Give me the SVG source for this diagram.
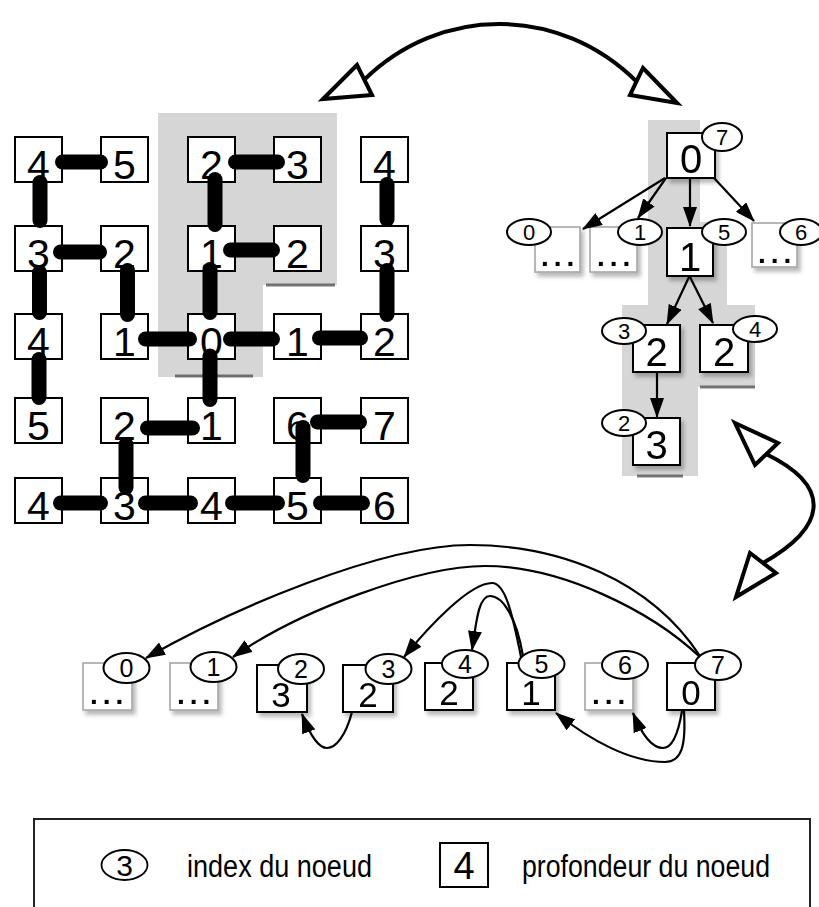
<svg xmlns="http://www.w3.org/2000/svg" width="819" height="907" viewBox="0 0 819 907">
  <defs>
    <style>
      .box { fill: #fff; stroke: #000; stroke-width: 2; }
      .faint { fill: #fff; stroke: #a6a6a6; stroke-width: 1.6; }
      .num { font-family: "Liberation Sans", Arial, sans-serif; text-anchor: middle; fill: #000; }
      .g40 { font-size: 41px; }
      .t40 { font-size: 40px; }
      .l35 { font-size: 35px; }
      .dots { font-family: "Liberation Sans", Arial, sans-serif; font-weight: bold; font-size: 28px; letter-spacing: 5px; fill: #000; }
      .oval { fill: #fff; stroke: #000; stroke-width: 2; }
      .ti { font-size: 22px; }
      .li { font-size: 25px; }
      .bar { stroke: #000; stroke-width: 15; stroke-linecap: round; fill: none; }
      .edge { fill: none; stroke: #000; stroke-width: 2.2; marker-end: url(#ah); }
      .big { fill: none; stroke: #000; stroke-width: 4; }
      .hollow { fill: #fff; stroke: #000; stroke-width: 4; stroke-linejoin: miter; }
      .zone { fill: #d6d6d6; }
      .rim { stroke: #555; stroke-width: 3; opacity: 0.8; }
      .leg { font-family: "Liberation Sans", Arial, sans-serif; font-size: 31px; fill: #000; }
    </style>
    <marker id="ah" viewBox="0 0 20 14" refX="19" refY="7" markerWidth="20" markerHeight="14" markerUnits="userSpaceOnUse" orient="auto">
      <path d="M0,0 L20,7 L0,14 z" fill="#000"/>
    </marker>
    <filter id="sh" x="-20%" y="-20%" width="150%" height="150%">
      <feGaussianBlur in="SourceAlpha" stdDeviation="2"/>
      <feOffset dx="3" dy="4"/>
      <feComponentTransfer><feFuncA type="linear" slope="0.28"/></feComponentTransfer>
      <feMerge><feMergeNode/><feMergeNode in="SourceGraphic"/></feMerge>
    </filter>
  </defs>

  <rect width="819" height="907" fill="#fff"/>

  <!-- shaded regions -->
  <g id="shading">
    <path class="zone" d="M158,113 H337 V285 H263 V377 H158 Z"/>
    <line class="rim" x1="266" y1="285" x2="335" y2="285"/>
    <line class="rim" x1="175" y1="376" x2="253" y2="376"/>
    <path class="zone" d="M648,120 H700 V222 H727 V305 H755 V387 H698 V476 H622 V305 H648 Z"/>
    <line class="rim" x1="700" y1="387" x2="755" y2="387"/>
    <line class="rim" x1="637" y1="476" x2="683" y2="476"/>
  </g>

  <!-- grid of depths -->
  <g id="grid">
    <g id="g-1-1"><rect class="box" x="15" y="137" width="47" height="45"/><text class="num g40" x="38.5" y="179">4</text></g>
    <g id="g-1-2"><rect class="box" x="101" y="137" width="47" height="45"/><text class="num g40" x="124.5" y="179">5</text></g>
    <g id="g-1-3"><rect class="box" x="188" y="137" width="47" height="45"/><text class="num g40" x="211.5" y="179">2</text></g>
    <g id="g-1-4"><rect class="box" x="274" y="137" width="47" height="45"/><text class="num g40" x="297.5" y="179">3</text></g>
    <g id="g-1-5"><rect class="box" x="361" y="137" width="47" height="45"/><text class="num g40" x="384.5" y="179">4</text></g>

    <g id="g-2-1"><rect class="box" x="15" y="226" width="47" height="45"/><text class="num g40" x="38.5" y="268">3</text></g>
    <g id="g-2-2"><rect class="box" x="101" y="226" width="47" height="45"/><text class="num g40" x="124.5" y="268">2</text></g>
    <g id="g-2-3"><rect class="box" x="188" y="226" width="47" height="45"/><text class="num g40" x="211.5" y="268">1</text></g>
    <g id="g-2-4"><rect class="box" x="274" y="226" width="47" height="45"/><text class="num g40" x="297.5" y="268">2</text></g>
    <g id="g-2-5"><rect class="box" x="361" y="226" width="47" height="45"/><text class="num g40" x="384.5" y="268">3</text></g>

    <g id="g-3-1"><rect class="box" x="15" y="314" width="47" height="45"/><text class="num g40" x="38.5" y="356">4</text></g>
    <g id="g-3-2"><rect class="box" x="101" y="314" width="47" height="45"/><text class="num g40" x="124.5" y="356">1</text></g>
    <g id="g-3-3"><rect class="box" x="188" y="314" width="47" height="45"/><text class="num g40" x="211.5" y="356">0</text></g>
    <g id="g-3-4"><rect class="box" x="274" y="314" width="47" height="45"/><text class="num g40" x="297.5" y="356">1</text></g>
    <g id="g-3-5"><rect class="box" x="361" y="314" width="47" height="45"/><text class="num g40" x="384.5" y="356">2</text></g>

    <g id="g-4-1"><rect class="box" x="15" y="398" width="47" height="45"/><text class="num g40" x="38.5" y="440">5</text></g>
    <g id="g-4-2"><rect class="box" x="101" y="398" width="47" height="45"/><text class="num g40" x="124.5" y="440">2</text></g>
    <g id="g-4-3"><rect class="box" x="188" y="398" width="47" height="45"/><text class="num g40" x="211.5" y="440">1</text></g>
    <g id="g-4-4"><rect class="box" x="274" y="398" width="47" height="45"/><text class="num g40" x="297.5" y="440">6</text></g>
    <g id="g-4-5"><rect class="box" x="361" y="398" width="47" height="45"/><text class="num g40" x="384.5" y="440">7</text></g>

    <g id="g-5-1"><rect class="box" x="15" y="478" width="47" height="45"/><text class="num g40" x="38.5" y="520">4</text></g>
    <g id="g-5-2"><rect class="box" x="101" y="478" width="47" height="45"/><text class="num g40" x="124.5" y="520">3</text></g>
    <g id="g-5-3"><rect class="box" x="188" y="478" width="47" height="45"/><text class="num g40" x="211.5" y="520">4</text></g>
    <g id="g-5-4"><rect class="box" x="274" y="478" width="47" height="45"/><text class="num g40" x="297.5" y="520">5</text></g>
    <g id="g-5-5"><rect class="box" x="361" y="478" width="47" height="45"/><text class="num g40" x="384.5" y="520">6</text></g>
  </g>

  <!-- tree of the traversal -->
  <g id="tree" filter="url(#sh)">
    <g id="t-root"><rect class="box" x="667" y="133" width="48" height="45"/><text class="num t40" x="691" y="173">0</text></g>
    <g id="t-idx0"><rect class="faint" x="535" y="227" width="45" height="45"/><text class="dots" x="541" y="266">...</text></g>
    <g id="t-idx1"><rect class="faint" x="590" y="227" width="47" height="45"/><text class="dots" x="597" y="266">...</text></g>
    <g id="t-idx5"><rect class="box" x="667" y="228" width="46" height="48"/><text class="num t40" x="690" y="271">1</text></g>
    <g id="t-idx6"><rect class="faint" x="752" y="223" width="45" height="44"/><text class="dots" x="758" y="263">...</text></g>
    <g id="t-idx3"><rect class="box" x="633" y="325" width="47" height="47"/><text class="num t40" x="656.5" y="366">2</text></g>
    <g id="t-idx4"><rect class="box" x="700" y="325" width="48" height="47"/><text class="num t40" x="724" y="366">2</text></g>
    <g id="t-idx2"><rect class="box" x="633" y="418" width="47" height="47"/><text class="num t40" x="656.5" y="459">3</text></g>
  </g>
  <g id="tree-index">
    <g id="ti-7"><ellipse class="oval" cx="722" cy="137" rx="20" ry="14"/><text class="num ti" x="722" y="145">7</text></g>
    <g id="ti-0"><ellipse class="oval" cx="529" cy="232" rx="22" ry="13"/><text class="num ti" x="529" y="240">0</text></g>
    <g id="ti-1"><ellipse class="oval" cx="640" cy="232" rx="22" ry="13"/><text class="num ti" x="640" y="240">1</text></g>
    <g id="ti-5"><ellipse class="oval" cx="724" cy="232" rx="22" ry="13"/><text class="num ti" x="724" y="240">5</text></g>
    <g id="ti-6"><ellipse class="oval" cx="801" cy="232" rx="21" ry="13"/><text class="num ti" x="801" y="240">6</text></g>
    <g id="ti-3"><ellipse class="oval" cx="624" cy="331" rx="22" ry="13"/><text class="num ti" x="624" y="339">3</text></g>
    <g id="ti-4"><ellipse class="oval" cx="755" cy="329" rx="22" ry="13"/><text class="num ti" x="755" y="337">4</text></g>
    <g id="ti-2"><ellipse class="oval" cx="624" cy="423" rx="22" ry="13"/><text class="num ti" x="624" y="431">2</text></g>
  </g>

  <!-- ordered list of nodes -->
  <g id="list" filter="url(#sh)">
    <g id="l-0"><rect class="faint" x="83" y="663" width="49" height="47"/><text class="dots" x="90" y="704">...</text></g>
    <g id="l-1"><rect class="faint" x="170" y="663" width="48" height="47"/><text class="dots" x="177" y="704">...</text></g>
    <g id="l-2"><rect class="box" x="257" y="665" width="50" height="47"/><text class="num l35" x="281" y="707">3</text></g>
    <g id="l-3"><rect class="box" x="343" y="665" width="50" height="47"/><text class="num l35" x="368" y="707">2</text></g>
    <g id="l-4"><rect class="box" x="425" y="663" width="48" height="47"/><text class="num l35" x="449" y="705">2</text></g>
    <g id="l-5"><rect class="box" x="507" y="663" width="48" height="47"/><text class="num l35" x="531" y="705">1</text></g>
    <g id="l-6"><rect class="faint" x="585" y="663" width="48" height="47"/><text class="dots" x="592" y="704">...</text></g>
    <g id="l-7"><rect class="box" x="667" y="663" width="48" height="47"/><text class="num l35" x="691" y="705">0</text></g>
  </g>
  <g id="list-index">
    <g id="li-0"><ellipse class="oval" cx="126.5" cy="668" rx="23" ry="15"/><text class="num li" x="126.5" y="677">0</text></g>
    <g id="li-1"><ellipse class="oval" cx="213.5" cy="667" rx="23" ry="15"/><text class="num li" x="213.5" y="676">1</text></g>
    <g id="li-2"><ellipse class="oval" cx="301" cy="669" rx="23" ry="15"/><text class="num li" x="301" y="678">2</text></g>
    <g id="li-3"><ellipse class="oval" cx="388.5" cy="669" rx="23" ry="15"/><text class="num li" x="388.5" y="678">3</text></g>
    <g id="li-4"><ellipse class="oval" cx="465" cy="664" rx="23" ry="14"/><text class="num li" x="465" y="673">4</text></g>
    <g id="li-5"><ellipse class="oval" cx="541.5" cy="664" rx="23" ry="14"/><text class="num li" x="541.5" y="673">5</text></g>
    <g id="li-6"><ellipse class="oval" cx="625" cy="665" rx="23" ry="14"/><text class="num li" x="625" y="674">6</text></g>
    <g id="li-7"><ellipse class="oval" cx="718" cy="665" rx="23" ry="15"/><text class="num li" x="718" y="674">7</text></g>
  </g>

  <g id="connectors">
    <!-- grid links -->
    <g id="grid-links">
      <line class="bar" x1="62.5" y1="162" x2="100.5" y2="162"/>
      <line class="bar" x1="235.5" y1="162" x2="277.5" y2="162"/>
      <line class="bar" x1="60.5" y1="252" x2="99.5" y2="252"/>
      <line class="bar" x1="230.5" y1="250" x2="272.5" y2="250"/>
      <line class="bar" x1="145.5" y1="339" x2="189.5" y2="339"/>
      <line class="bar" x1="230.5" y1="339" x2="272.5" y2="339"/>
      <line class="bar" x1="319.5" y1="338" x2="360.5" y2="338"/>
      <line class="bar" x1="147.5" y1="428" x2="192.5" y2="428"/>
      <line class="bar" x1="317.5" y1="422" x2="359.5" y2="422"/>
      <line class="bar" x1="60.5" y1="503" x2="100.5" y2="503"/>
      <line class="bar" x1="145.5" y1="503" x2="190.5" y2="503"/>
      <line class="bar" x1="232.5" y1="503" x2="277.5" y2="503"/>
      <line class="bar" x1="320.5" y1="503" x2="362.5" y2="503"/>
      <line class="bar" x1="40" y1="182.5" x2="40" y2="220.5"/>
      <line class="bar" x1="39.5" y1="272.5" x2="39.5" y2="312.5"/>
      <line class="bar" x1="39" y1="359.5" x2="39" y2="397.5"/>
      <line class="bar" x1="127.5" y1="270.5" x2="127.5" y2="314.5"/>
      <line class="bar" x1="126" y1="444.5" x2="126" y2="487.5"/>
      <line class="bar" x1="215" y1="179.5" x2="215" y2="224.5"/>
      <line class="bar" x1="210" y1="269.5" x2="210" y2="312.5"/>
      <line class="bar" x1="210" y1="356" x2="210" y2="399.5"/>
      <line class="bar" x1="303" y1="427.5" x2="303" y2="475.5"/>
      <line class="bar" x1="387" y1="184.5" x2="387" y2="219.5"/>
      <line class="bar" x1="387" y1="270.5" x2="387" y2="314.5"/>
    </g>

    <!-- tree edges -->
    <g id="tree-edges">
      <path class="edge" d="M665,178 L583,229"/>
      <path class="edge" d="M666,178 L638,218"/>
      <path class="edge" d="M690,178 L690,226"/>
      <path class="edge" d="M714,178 L754,221"/>
      <path class="edge" d="M689,277 L667,324"/>
      <path class="edge" d="M690,277 L713,323"/>
      <path class="edge" d="M657,372 L657,417"/>
    </g>

    <!-- list references -->
    <g id="list-edges">
      <path class="edge" d="M700,656 C650,580 560,545 470,545 C380,545 230,610 146,658"/>
      <path class="edge" d="M700,657 C650,610 560,566 485,566 C420,566 300,610 233,657"/>
      <path class="edge" d="M521,657 C512,612 505,583 492,583 C470,583 430,625 404,657"/>
      <path class="edge" d="M523,656 C516,615 502,596 490,596 C478,596 476,625 472,650"/>
      <path class="edge" d="M352,712 C346,735 336,748 327,748 C318,748 310,735 302,714"/>
      <path class="edge" d="M682,711 C678,735 672,748 663,748 C652,748 642,735 633,713"/>
      <path class="edge" d="M684,711 C686,745 682,762 665,762 C630,762 590,740 556,713"/>
    </g>

    <!-- correspondence arrows -->
    <g id="correspondence">
      <path class="big" d="M364,80 C440,5 560,5 637,82"/>
      <polygon class="hollow" points="323,99 357,65 372,95"/>
      <polygon class="hollow" points="677,103 643,68 630,95"/>
      <path class="big" d="M766,454 C830,485 830,525 763,563"/>
      <polygon class="hollow" points="735,423 778,443 755,465"/>
      <polygon class="hollow" points="736,597 750,553 776,573"/>
    </g>
  </g>

  <!-- legend -->
  <g id="legend">
    <rect x="34" y="819" width="776" height="110" fill="none" stroke="#222" stroke-width="2"/>
    <g id="legend-index">
      <ellipse cx="124.5" cy="865" rx="23" ry="15" fill="#fff" stroke="#000" stroke-width="1.8"/>
      <text class="num" x="124.5" y="876" font-size="30">3</text>
      <text class="leg" x="187" y="877" textLength="185" lengthAdjust="spacingAndGlyphs">index du noeud</text>
    </g>
    <g id="legend-depth">
      <rect x="440" y="843" width="48" height="44" fill="#fff" stroke="#000" stroke-width="2"/>
      <text class="num" x="464" y="879" font-size="38">4</text>
      <text class="leg" x="522" y="877" textLength="248" lengthAdjust="spacingAndGlyphs">profondeur du noeud</text>
    </g>
  </g>
</svg>
